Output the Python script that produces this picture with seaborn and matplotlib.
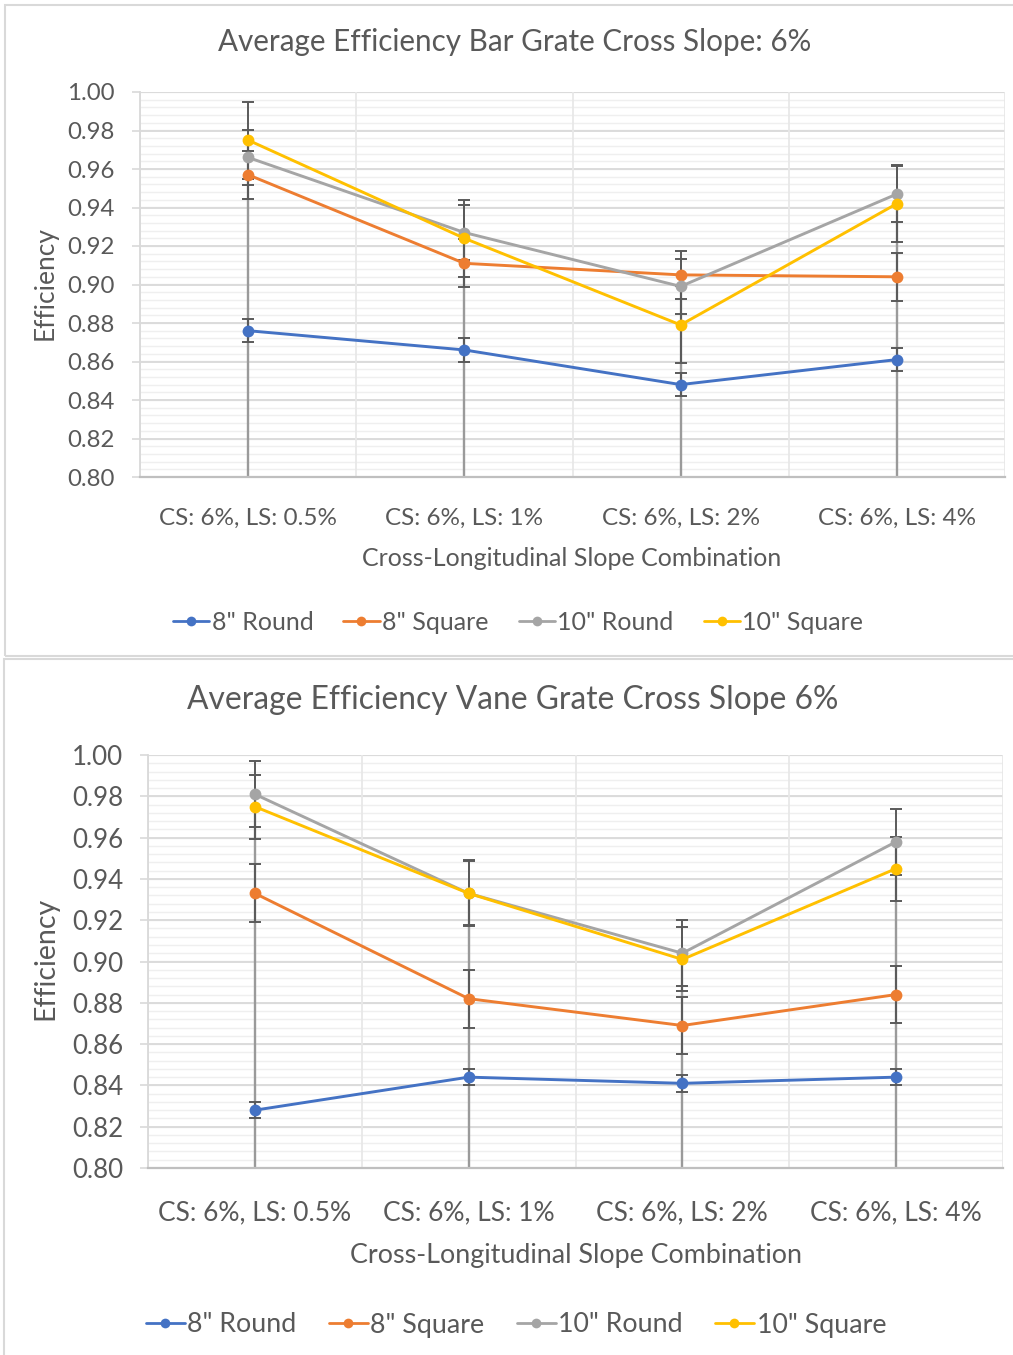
import matplotlib
matplotlib.use("Agg")
import matplotlib.pyplot as plt
from matplotlib.lines import Line2D
from matplotlib.patches import Rectangle
import seaborn as sns
import pandas as pd
import numpy as np

# ---------------- data ----------------
categories = ["CS: 6%, LS: 0.5%", "CS: 6%, LS: 1%", "CS: 6%, LS: 2%", "CS: 6%, LS: 4%"]
series_names = ['8" Round', '8" Square', '10" Round', '10" Square']

bar_8_round = [0.876, 0.866, 0.848, 0.861]
bar_8_square = [0.957, 0.911, 0.905, 0.904]
bar_10_round = [0.966, 0.927, 0.899, 0.947]
bar_10_square = [0.975, 0.924, 0.879, 0.942]
bar_8_round_err = [0.006, 0.006, 0.006, 0.006]
bar_8_square_err = [0.0125, 0.0125, 0.0125, 0.0125]
bar_10_round_err = [0.0145, 0.0145, 0.0145, 0.0147]
bar_10_square_err = [0.020, 0.020, 0.020, 0.020]

vane_8_round = [0.828, 0.844, 0.841, 0.844]
vane_8_square = [0.933, 0.882, 0.869, 0.884]
vane_10_round = [0.981, 0.933, 0.904, 0.958]
vane_10_square = [0.975, 0.933, 0.901, 0.945]
vane_8_round_err = [0.004, 0.004, 0.004, 0.004]
vane_8_square_err = [0.014, 0.014, 0.014, 0.014]
vane_10_round_err = [0.016, 0.016, 0.016, 0.016]
vane_10_square_err = [0.0155, 0.0155, 0.0155, 0.0155]

y_ticks = [0.80, 0.82, 0.84, 0.86, 0.88, 0.90, 0.92, 0.94, 0.96, 0.98, 1.00]

top_title = "Average Efficiency Bar Grate Cross Slope: 6%"
bottom_title = "Average Efficiency Vane Grate Cross Slope 6%"
x_label = "Cross-Longitudinal Slope Combination"
y_label = "Efficiency"

colors = ["#4472C4", "#ED7D31", "#A5A5A5", "#FFC000"]
TEXT = "#595959"

sns.set_style("white")
plt.rcParams['font.family'] = ['Lato', 'DejaVu Sans']

W, H = 1013, 1355
fig = plt.figure(figsize=(W / 100, H / 100), dpi=100)
fig.patch.set_facecolor("white")


def px_axes(x0, x1, y_top, y_bot):
    return fig.add_axes([x0 / W, 1 - y_bot / H, (x1 - x0) / W, (y_bot - y_top) / H])


def draw_panel(ax, vals, errs, fs_tick, fs_ytick, fs_xlab, fs_ylab):
    rows = []
    for name, v in zip(series_names, vals):
        for i, val in enumerate(v):
            rows.append({"pos": i, "eff": val, "series": name})
    df = pd.DataFrame(rows)

    # grid
    ax.set_xlim(-0.5, 3.5)
    ax.set_ylim(0.80, 1.00)
    for yv in np.arange(0.80, 1.0001, 0.004):
        ax.axhline(yv, color="#EFEFEF", lw=1.0, zorder=0.5)
    for yv in y_ticks:
        ax.axhline(yv, color="#D9D9D9", lw=1.3, zorder=0.6)
    for xv in [-0.5, 0.5, 1.5, 2.5, 3.5]:
        ax.axvline(xv, color="#E8E8E8", lw=1.3, zorder=0.6)

    # drop lines from highest point to axis
    tops = df.groupby("pos")["eff"].max()
    ax.vlines(tops.index, 0.80, tops.values, color="#9A9A9A", lw=1.7, zorder=1.5)

    # error bars
    for v, e in zip(vals, errs):
        ax.errorbar(range(len(v)), v, yerr=e, fmt="none", ecolor="#5A5A5A",
                    elinewidth=1.4, capsize=4, capthick=1.4, zorder=2)

    sns.lineplot(data=df, x="pos", y="eff", hue="series", palette=colors,
                 hue_order=series_names, marker="o", markersize=8.5,
                 markeredgewidth=0, linewidth=2.1, ax=ax, legend=False, zorder=3)

    ax.set_xticks(range(len(categories)))
    ax.set_xticklabels(categories)
    ax.set_yticks(y_ticks)
    ax.set_yticklabels([f"{t:.2f}" for t in y_ticks])
    ax.tick_params(axis="y", length=6, width=1.2, color="#D9D9D9", labelsize=fs_ytick,
                   labelcolor=TEXT, pad=12, left=True)
    ax.tick_params(axis="x", length=0, labelsize=fs_tick, labelcolor=TEXT, pad=22)
    for s in ["top", "right"]:
        ax.spines[s].set_visible(False)
    ax.spines["left"].set_color("#D9D9D9")
    ax.spines["left"].set_linewidth(1.3)
    ax.spines["bottom"].set_color("#BFBFBF")
    ax.spines["bottom"].set_linewidth(1.6)
    ax.set_xlabel(x_label, fontsize=fs_xlab, color=TEXT)
    ax.set_ylabel(y_label, fontsize=fs_ylab, color=TEXT)


# ---------- top chart ----------
ax1 = px_axes(140, 1005, 92, 477)
draw_panel(ax1, [bar_8_round, bar_8_square, bar_10_round, bar_10_square],
           [bar_8_round_err, bar_8_square_err, bar_10_round_err, bar_10_square_err],
           17.5, 17.3, 18.0, 19.0)
ax1.xaxis.set_label_coords((572 - 140) / 865, (477 - 558) / 385)
ax1.xaxis.label.set_va("center")
ax1.yaxis.set_label_coords((45 - 140) / 865, (477 - 283) / 385)
ax1.yaxis.label.set_va("center")
fig.text(515 / W, 1 - 42 / H, top_title, ha="center", va="center", fontsize=21.3, color=TEXT)

# ---------- bottom chart ----------
ax2 = px_axes(148, 1003, 755, 1168)
draw_panel(ax2, [vane_8_round, vane_8_square, vane_10_round, vane_10_square],
           [vane_8_round_err, vane_8_square_err, vane_10_round_err, vane_10_square_err],
           19.0, 18.6, 19.4, 20.5)
ax2.tick_params(axis="x", pad=23)
ax2.xaxis.set_label_coords((576 - 148) / 855, (1168 - 1256) / 413)
ax2.xaxis.label.set_va("center")
ax2.yaxis.set_label_coords((45 - 148) / 855, (1168 - 958) / 413)
ax2.yaxis.label.set_va("center")
fig.text(513 / W, 1 - 700 / H, bottom_title, ha="center", va="center", fontsize=22.9, color=TEXT)

# ---------- legends ----------
handles = [Line2D([0], [0], color=c, lw=2.0, marker="o", markersize=7, markeredgewidth=0)
           for c in colors]
fig.legend(handles, series_names, loc="center", bbox_to_anchor=(518 / W, 1 - 622 / H),
           ncol=4, frameon=False, fontsize=18.0, labelcolor=TEXT, handlelength=1.45,
           handletextpad=0.1, columnspacing=1.2)
fig.legend(handles, series_names, loc="center", bbox_to_anchor=(516 / W, 1 - 1325 / H),
           ncol=4, frameon=False, fontsize=19.3, labelcolor=TEXT, handlelength=1.45,
           handletextpad=0.1, columnspacing=1.2)

# ---------- panel borders ----------
fig.add_artist(Rectangle((5 / W, 1 - 656 / H), 1.2, (656 - 5) / H, transform=fig.transFigure,
                         fill=False, edgecolor="#D9D9D9", lw=1.5))
fig.add_artist(Rectangle((4 / W, -0.1), 1.2, (1.1 - 659 / H), transform=fig.transFigure,
                         fill=False, edgecolor="#D9D9D9", lw=1.5))

fig.savefig("out.png", dpi=100, facecolor="white")
